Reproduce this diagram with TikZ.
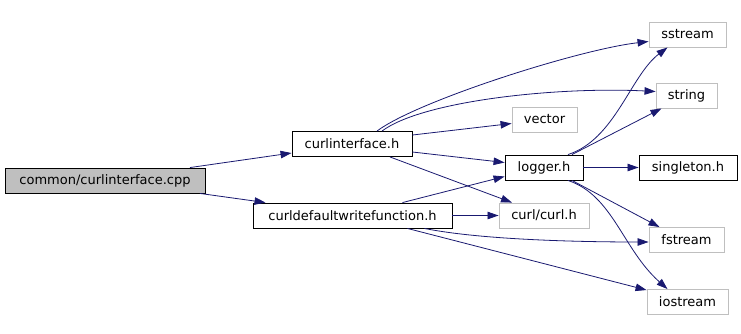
\documentclass[tikz,border=0pt]{standalone}
\usepackage{fontspec}
\setmainfont{DejaVu Sans}
\usetikzlibrary{arrows.meta}

\definecolor{edgeblue}{HTML}{191970}
\definecolor{sysgray}{HTML}{BFBFBF}

\begin{document}
\begin{tikzpicture}[
    x=1pt, y=-1pt,
    header/.style={rectangle, draw=black, fill=white, line width=0.9pt, minimum height=25pt, inner sep=0pt, font=\fontsize{13}{15}\selectfont},
    system/.style={header, draw=sysgray},
    source/.style={header, fill=sysgray},
    incl/.style={-{Triangle[length=11pt, width=7.5pt]}, draw=edgeblue, line width=0.8pt}
]
\useasboundingbox (0,0) rectangle (741,333);

% Source file
\node[source, minimum width=200pt] (cpp) at (105,180.5) {common/curlinterface.cpp};

% Project headers
\node[header, minimum width=120pt] (iface) at (352,144) {curlinterface.h};
\node[header, minimum width=199pt] (writefn) at (352.5,215.5) {curldefaultwritefunction.h};
\node[header, minimum width=78pt] (logger) at (544,167.5) {logger.h};
\node[header, minimum width=98pt] (singleton) at (688,167.5) {singleton.h};

% System headers
\node[system, minimum width=65pt] (vector) at (544.5,119.5) {vector};
\node[system, minimum width=90pt] (curl) at (544,215.5) {curl/curl.h};
\node[system, minimum width=77pt] (sstream) at (687.5,34.5) {sstream};
\node[system, minimum width=61pt] (string) at (686.5,95.5) {string};
\node[system, minimum width=75pt] (fstream) at (686.5,240) {fstream};
\node[system, minimum width=81pt] (iostream) at (687.5,302) {iostream};

% Includes of the source file
\draw[incl] ([xshift=85pt]cpp.north) -- ([yshift=-9pt]iface.west);
\draw[incl] ([xshift=95pt]cpp.south) -- ([xshift=-87pt]writefn.north);

% Includes of curlinterface.h
\draw[incl] ([xshift=25pt]iface.north) .. controls +(40,-30) and +(-70,8) .. ([yshift=-7pt]sstream.west);
\draw[incl] ([xshift=30pt]iface.north) .. controls +(40,-30) and +(-100,-5) .. ([yshift=4pt]string.west);
\draw[incl] ([yshift=9pt]iface.east) -- ([yshift=-4pt]vector.west);
\draw[incl] ([yshift=-8pt]iface.east) -- ([yshift=5pt]logger.west);
\draw[incl] ([xshift=38pt]iface.south) -- ([xshift=-32pt]curl.north);

% Includes of curldefaultwritefunction.h
\draw[incl] ([xshift=50pt]writefn.north) -- ([yshift=-9pt]logger.west);
\draw[incl] (writefn.east) -- (curl.west);
\draw[incl] ([xshift=72pt]writefn.south) .. controls +(60,12) and +(-60,0) .. ([yshift=-2pt]fstream.west);
\draw[incl] ([xshift=55pt]writefn.south) -- ([yshift=-1pt]iostream.north west);

% Includes of logger.h
\draw[incl] ([xshift=24pt]logger.north) .. controls +(47,-15) and +(-37,28) .. ([xshift=-20pt]sstream.south);
\draw[incl] ([xshift=28pt]logger.north) -- ([xshift=-25pt]string.south);
\draw[incl] (logger.east) -- (singleton.west);
\draw[incl] ([xshift=28pt]logger.south) -- ([xshift=-27pt]fstream.north);
\draw[incl] ([xshift=24pt]logger.south) .. controls +(45,15) and +(-45,-40) .. ([xshift=-20pt]iostream.north);

\end{tikzpicture}
\end{document}
